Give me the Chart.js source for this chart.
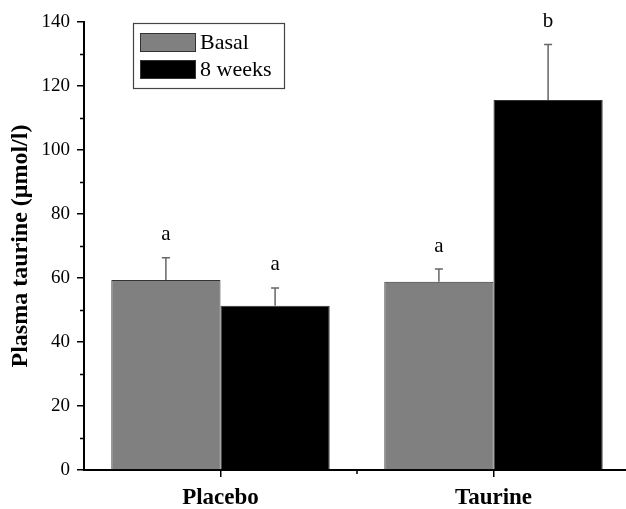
<!DOCTYPE html>
<html>
<head>
<meta charset="utf-8">
<script src="https://cdn.jsdelivr.net/npm/chart.js@4"></script>
<style>
  body { margin: 0; background: #fff; overflow: hidden; }
  #wrap { width: 630px; height: 509px; }
</style>
</head>
<body>
<div id="wrap"><canvas id="chart"></canvas></div>
<script>
const categories = ["Placebo", "Taurine"];
const basal = [59.4, 58.8];
const basalErr = [6.9, 4.0];
const weeks8 = [51.3, 115.6];
const weeks8Err = [5.6, 17.4];
const basalLetters = ["a", "a"];
const weeks8Letters = ["a", "b"];
const yTicks = [0, 20, 40, 60, 80, 100, 120, 140];

const serif = "'Liberation Serif', 'Times New Roman', serif";

// error bars, letters, minor ticks and the boxed legend
const extras = {
  id: "extras",
  afterDatasetsDraw(chart) {
    const ctx = chart.ctx;
    const y = chart.scales.y, x = chart.scales.x;
    const errs = [basalErr, weeks8Err];
    const letters = [basalLetters, weeks8Letters];
    ctx.save();
    chart.data.datasets.forEach((ds, di) => {
      chart.getDatasetMeta(di).data.forEach((bar, i) => {
        const top = y.getPixelForValue(ds.data[i] + errs[di][i]);
        ctx.strokeStyle = "#666";
        ctx.lineWidth = 1.5;
        ctx.beginPath();
        ctx.moveTo(bar.x, bar.y);
        ctx.lineTo(bar.x, top);
        ctx.moveTo(bar.x - 4, top);
        ctx.lineTo(bar.x + 4, top);
        ctx.stroke();
        ctx.fillStyle = "#000";
        ctx.font = "21px " + serif;
        ctx.textAlign = "center";
        ctx.textBaseline = "middle";
        ctx.fillText(letters[di][i], bar.x, top - 23);
      });
    });

    // minor ticks
    ctx.strokeStyle = "#000";
    ctx.lineWidth = 1.5;
    ctx.beginPath();
    for (let v = 10; v < 140; v += 20) {
      const py = Math.round(y.getPixelForValue(v)) + 0.5;
      ctx.moveTo(y.right - 4, py);
      ctx.lineTo(y.right, py);
    }
    const mx = (x.getPixelForValue(0) + x.getPixelForValue(1)) / 2;
    ctx.moveTo(mx, x.top);
    ctx.lineTo(mx, x.top + 4);
    ctx.stroke();

    // legend
    const lx = 133, ly = 23, lw = 151, lh = 65;
    ctx.strokeStyle = "#444";
    ctx.lineWidth = 1.2;
    ctx.strokeRect(lx + 0.5, ly + 0.5, lw, lh);
    chart.data.datasets.forEach((ds, di) => {
      const sy = ly + 10 + di * 27;
      ctx.fillStyle = ds.backgroundColor;
      ctx.fillRect(lx + 7, sy, 55, 18);
      ctx.strokeStyle = "#333";
      ctx.lineWidth = 1;
      ctx.strokeRect(lx + 7.5, sy + 0.5, 55, 18);
      ctx.fillStyle = "#000";
      ctx.font = "22px " + serif;
      ctx.textAlign = "left";
      ctx.textBaseline = "middle";
      ctx.fillText(ds.label, lx + 67, sy + 10);
    });
    ctx.restore();
  }
};

new Chart(document.getElementById("chart"), {
  type: "bar",
  data: {
    labels: categories,
    datasets: [
      { label: "Basal", data: basal, backgroundColor: "#808080", borderColor: "#333", borderWidth: 1 },
      { label: "8 weeks", data: weeks8, backgroundColor: "#000000", borderColor: "#333", borderWidth: 1 }
    ]
  },
  options: {
    responsive: true,
    maintainAspectRatio: false,
    animation: false,
    layout: { padding: { top: 22, left: 0, right: 0, bottom: 0 } },
    plugins: { legend: { display: false }, tooltip: { enabled: false } },
    datasets: { bar: { categoryPercentage: 0.8, barPercentage: 1 } },
    scales: {
      x: {
        afterFit: s => { s.height = 39; },
        grid: { offset: false, drawOnChartArea: false, drawTicks: true, tickLength: 7, color: "#000", lineWidth: 1.5 },
        border: { color: "#000", width: 2 },
        ticks: { color: "#000", padding: 7, font: { family: serif, size: 23, weight: "bold" } }
      },
      y: {
        min: 0,
        max: 140,
        afterFit: s => { s.width = 84; },
        afterBuildTicks: s => { s.ticks = yTicks.map(v => ({ value: v })); },
        grid: { drawOnChartArea: false, drawTicks: true, tickLength: 7, color: "#000", lineWidth: 1.5 },
        border: { color: "#000", width: 2 },
        ticks: { color: "#000", padding: 7, font: { family: serif, size: 19 } },
        title: {
          display: true,
          text: "Plasma taurine (μmol/l)",
          color: "#000",
          padding: { top: 6, bottom: 0 },
          font: { family: serif, size: 24, weight: "bold" }
        }
      }
    }
  },
  plugins: [extras]
});
</script>
</body>
</html>
